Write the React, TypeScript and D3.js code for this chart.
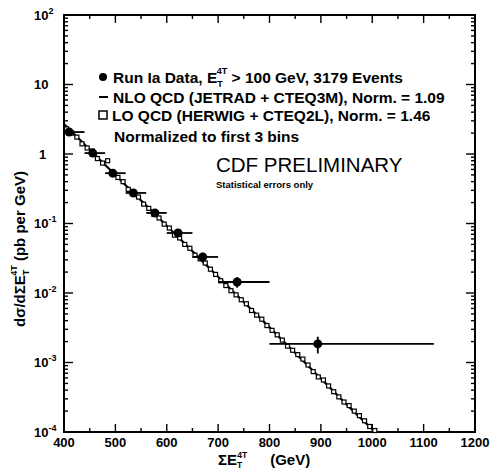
import React from 'react';
import * as d3 from 'd3';

const W = 490;
const H = 474;
const PLOT = { left: 64, right: 475, top: 15, bottom: 432 };

// Run Ia data: mean sum-ET per bin, cross section, bin edges, statistical error
const dataX = [410, 456, 495, 535, 577, 622, 670, 737, 894];
const dataY = [2.07, 1.03, 0.53, 0.275, 0.142, 0.073, 0.033, 0.0144, 0.00185];
const binLo = [400, 440, 480, 520, 560, 600, 650, 700, 800];
const binHi = [440, 480, 520, 560, 600, 650, 700, 800, 1120];
const dataErr = [0.08, 0.05, 0.03, 0.02, 0.012, 0.008, 0.005, 0.0025, 0.0005];

// NLO QCD (JETRAD + CTEQ3M) prediction
const nloX = [400, 450, 500, 550, 600, 650, 700, 750, 800, 850, 900, 950, 1000];
const nloY = [2.7, 1.16, 0.5, 0.214, 0.093, 0.04, 0.0171, 0.0074, 0.0032, 0.00137, 0.00059, 0.00025, 0.00011];

// LO QCD (HERWIG + CTEQ2L) prediction
const lpX = [
  405, 415, 425, 435, 445, 455, 465, 475, 485, 495,
  505, 515, 525, 535, 545, 555, 565, 575, 585, 595,
  605, 615, 625, 635, 645, 655, 665, 675, 685, 695,
  705, 715, 725, 735, 745, 755, 765, 775, 785, 795,
  805, 815, 825, 835, 845, 855, 865, 875, 885, 895,
  905, 915, 925, 935, 945, 955, 965, 975, 985, 995, 1005,
];
const lpY = [
  2.3, 2.0, 1.75, 1.4, 1.22, 1.1, 0.86, 0.74, 0.8, 0.52,
  0.46, 0.4, 0.31, 0.28, 0.24, 0.19, 0.165, 0.135, 0.12, 0.098,
  0.086, 0.068, 0.062, 0.05, 0.044, 0.035, 0.031, 0.027, 0.022, 0.0185,
  0.015, 0.0128, 0.0108, 0.0094, 0.008, 0.007, 0.0056, 0.0048, 0.0042, 0.0034,
  0.0029, 0.0025, 0.0021, 0.00172, 0.0015, 0.0013, 0.00112, 0.00092, 0.00074, 0.00062,
  0.00056, 0.00046, 0.00038, 0.00032, 0.00027, 0.00024, 0.0002, 0.000172, 0.000145, 0.00012, 0.000105,
];

const xMajor = [400, 500, 600, 700, 800, 900, 1000, 1100, 1200];
const xMinor = [450, 550, 650, 750, 850, 950, 1050, 1150];
const yDecades = [-4, -3, -2, -1, 0, 1, 2];

const FONT = '"Liberation Sans", Arial, Helvetica, sans-serif';

export default function App() {
  const x = d3.scaleLinear().domain([400, 1200]).range([PLOT.left, PLOT.right]);
  const y = d3.scaleLog().domain([1e-4, 1e2]).range([PLOT.bottom, PLOT.top]);

  const yMinor: number[] = [];
  yDecades.slice(0, -1).forEach((e) => {
    [2, 3, 4, 5, 6, 7, 8, 9].forEach((m) => yMinor.push(m * Math.pow(10, e)));
  });

  const nloPath = d3
    .line<number>()
    .x((_, i) => x(nloX[i]))
    .y((d) => y(d))
    .curve(d3.curveMonotoneX)(nloY) as string;

  const tick = { stroke: '#000', strokeWidth: 1.4 };

  return (
    <svg
      width={W}
      height={H}
      viewBox={`0 0 ${W} ${H}`}
      style={{ position: 'absolute', left: 0, top: 0, background: '#fff' }}
      fontFamily={FONT}
    >
      <rect x={0} y={0} width={W} height={H} fill="#fff" />

      {/* x ticks, bottom and top, pointing inward */}
      {xMajor.map((v) => (
        <g key={'xm' + v}>
          <line x1={x(v)} x2={x(v)} y1={PLOT.bottom} y2={PLOT.bottom - 8} {...tick} />
          <line x1={x(v)} x2={x(v)} y1={PLOT.top} y2={PLOT.top + 8} {...tick} />
          <text x={x(v)} y={PLOT.bottom + 15} textAnchor="middle" fontSize={13} fontWeight="bold">
            {v}
          </text>
        </g>
      ))}
      {xMinor.map((v) => (
        <g key={'xn' + v}>
          <line x1={x(v)} x2={x(v)} y1={PLOT.bottom} y2={PLOT.bottom - 4} {...tick} />
          <line x1={x(v)} x2={x(v)} y1={PLOT.top} y2={PLOT.top + 4} {...tick} />
        </g>
      ))}

      {/* y ticks, left and right */}
      {yDecades.map((e) => {
        const v = Math.pow(10, e);
        const yy = y(v);
        return (
          <g key={'yd' + e}>
            <line x1={PLOT.left} x2={PLOT.left + 9} y1={yy} y2={yy} {...tick} />
            <line x1={PLOT.right} x2={PLOT.right - 9} y1={yy} y2={yy} {...tick} />
            {e === 0 ? (
              <text x={39} y={yy + 4.5} fontSize={13} fontWeight="bold">1</text>
            ) : e === 1 ? (
              <text x={34} y={yy + 4.5} fontSize={13} fontWeight="bold">10</text>
            ) : (
              <text x={34} y={yy + 4.5} fontSize={13} fontWeight="bold">
                10
                <tspan dy={-6} fontSize={9}>{e}</tspan>
              </text>
            )}
          </g>
        );
      })}
      {yMinor.map((v, i) => (
        <g key={'yn' + i}>
          <line x1={PLOT.left} x2={PLOT.left + 4} y1={y(v)} y2={y(v)} {...tick} />
          <line x1={PLOT.right} x2={PLOT.right - 4} y1={y(v)} y2={y(v)} {...tick} />
        </g>
      ))}

      {/* frame */}
      <rect
        x={PLOT.left}
        y={PLOT.top}
        width={PLOT.right - PLOT.left}
        height={PLOT.bottom - PLOT.top}
        fill="none"
        stroke="#000"
        strokeWidth={2}
      />

      {/* NLO curve */}
      <path d={nloPath} fill="none" stroke="#000" strokeWidth={2.2} />

      {/* HERWIG open squares */}
      {lpY.map((v, i) => (
        <rect
          key={'lp' + i}
          x={x(lpX[i]) - 2}
          y={y(v) - 2}
          width={4}
          height={4}
          fill="#fff"
          stroke="#000"
          strokeWidth={1.2}
        />
      ))}

      {/* data points with bin-width and statistical error bars */}
      {dataY.map((v, i) => (
        <g key={'d' + i}>
          <line x1={x(binLo[i])} x2={x(binHi[i])} y1={y(v)} y2={y(v)} stroke="#000" strokeWidth={1.8} />
          <line
            x1={x(dataX[i])}
            x2={x(dataX[i])}
            y1={y(v + dataErr[i])}
            y2={y(Math.max(v - dataErr[i], 1e-5))}
            stroke="#000"
            strokeWidth={1.8}
          />
          <circle cx={x(dataX[i])} cy={y(v)} r={4.5} fill="#000" />
        </g>
      ))}

      {/* legend */}
      <g fontSize={15.5} fontWeight="bold">
        <circle cx={103} cy={77} r={4} fill="#000" />
        <text x={113} y={82.5}>
          Run Ia Data, E
          <tspan dy={4} fontSize={9}>T</tspan>
          <tspan dx={-6} dy={-13} fontSize={9}>4T</tspan>
          <tspan dy={9}> &gt; 100 GeV, 3179 Events</tspan>
        </text>
        <line x1={99} x2={108} y1={97} y2={97} stroke="#000" strokeWidth={2} />
        <text x={113} y={102.5}>NLO QCD (JETRAD + CTEQ3M), Norm. = 1.09</text>
        <rect x={99} y={111} width={8} height={8} fill="#fff" stroke="#000" strokeWidth={1.5} />
        <text x={112} y={120.5}>LO QCD (HERWIG + CTEQ2L), Norm. = 1.46</text>
        <text x={114} y={141.5}>Normalized to first 3 bins</text>
      </g>
      <text x={216} y={172} fontSize={20.5}>CDF PRELIMINARY</text>
      <text x={216} y={188} fontSize={9.5} fontWeight="bold">Statistical errors only</text>

      {/* axis titles */}
      <text x={218} y={465} fontSize={15} fontWeight="bold">
        ΣE
        <tspan dy={3} fontSize={8.5}>T</tspan>
        <tspan dx={-5} dy={-10} fontSize={8.5}>4T</tspan>
        <tspan dy={7} dx={23}>(GeV)</tspan>
      </text>
      <text
        transform="translate(25,249) rotate(-90)"
        textAnchor="middle"
        fontSize={15}
        fontWeight="bold"
      >
        dσ/dΣE
        <tspan dy={4} fontSize={9}>T</tspan>
        <tspan dx={-6} dy={-12} fontSize={9}>4T</tspan>
        <tspan dy={8}> (pb per GeV)</tspan>
      </text>
    </svg>
  );
}
